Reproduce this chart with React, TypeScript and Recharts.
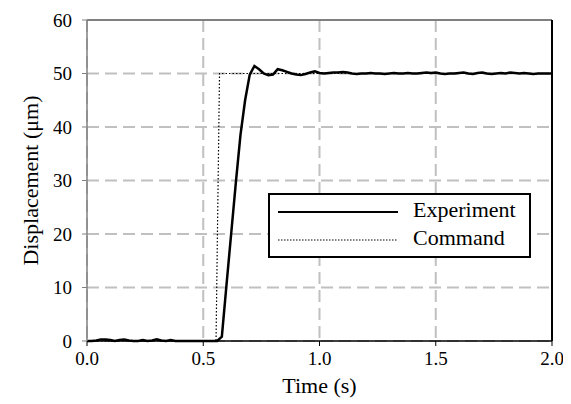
import { LineChart, Line, XAxis, YAxis, CartesianGrid, ReferenceLine, Label } from 'recharts';

// Experiment samples, every 0.02 s
const expTime = [
  0.0, 0.02, 0.04, 0.06, 0.08, 0.1, 0.12, 0.14, 0.16, 0.18,
  0.2, 0.22, 0.24, 0.26, 0.28, 0.3, 0.32, 0.34, 0.36, 0.38,
  0.4, 0.42, 0.44, 0.46, 0.48, 0.5, 0.52, 0.54, 0.56, 0.58,
  0.6, 0.62, 0.64, 0.66, 0.68, 0.7, 0.72, 0.74, 0.76, 0.78,
  0.8, 0.82, 0.84, 0.86, 0.88, 0.9, 0.92, 0.94, 0.96, 0.98,
  1.0, 1.02, 1.04, 1.06, 1.08, 1.1, 1.12, 1.14, 1.16, 1.18,
  1.2, 1.22, 1.24, 1.26, 1.28, 1.3, 1.32, 1.34, 1.36, 1.38,
  1.4, 1.42, 1.44, 1.46, 1.48, 1.5, 1.52, 1.54, 1.56, 1.58,
  1.6, 1.62, 1.64, 1.66, 1.68, 1.7, 1.72, 1.74, 1.76, 1.78,
  1.8, 1.82, 1.84, 1.86, 1.88, 1.9, 1.92, 1.94, 1.96, 1.98, 2.0,
];
const expDisp = [
  0, 0, 0.1, 0.3, 0.3, 0.2, 0, 0.2, 0.3, 0.1,
  0, 0, 0.2, 0, 0.1, 0.3, 0.1, 0, 0.2, 0,
  0, 0, 0, 0, 0, 0, 0, 0, 0, 0.8,
  10.5, 20, 29.5, 38.5, 45, 49.8, 51.4, 50.8, 50.0, 49.7,
  49.8, 50.8, 50.6, 50.3, 50.0, 49.8, 49.7, 49.9, 50.2, 50.4,
  50.1, 50.0, 50.1, 50.2, 50.2, 50.3, 50.2, 50.0, 49.9, 50.0,
  50.0, 50.1, 50.0, 50.0, 49.9, 50.0, 50.1, 50.0, 50.0, 50.1,
  50.0, 50.0, 50.1, 50.2, 50.1, 50.2, 50.0, 49.9, 50.0, 50.0,
  50.1, 50.2, 50.0, 49.9, 50.1, 50.2, 50.0, 49.9, 50.0, 50.1,
  50.0, 50.2, 50.1, 50.0, 50.1, 50.0, 49.9, 50.0, 50.0, 50.0, 50.0,
];

const cmdTime = [0, 0.555, 0.57, 2.0];
const cmdDisp = [0, 0, 50, 50];

const xTicks = [0, 0.5, 1.0, 1.5, 2.0];
const yTicks = [0, 10, 20, 30, 40, 50, 60];

const expData = expTime.map((t, i) => ({ t, y: expDisp[i] }));
const cmdData = cmdTime.map((t, i) => ({ t, y: cmdDisp[i] }));

const font = "'Liberation Serif', 'DejaVu Serif', serif";

function LegendBox() {
  return (
    <div style={{ position: 'absolute', left: 260, top: 185, width: 259, height: 61, border: '2px solid #000', background: '#fff', fontFamily: font, fontSize: 22, color: '#000' }}>
      <svg width={259} height={61} style={{ position: 'absolute', left: 0, top: 0 }}>
        <line x1={8} x2={128} y1={17} y2={17} stroke="#000" strokeWidth={2} />
        <line x1={8} x2={128} y1={45} y2={45} stroke="#000" strokeWidth={1.2} strokeDasharray="1.5 1.5" />
      </svg>
      <div style={{ position: 'absolute', left: 143, top: 2, lineHeight: '26px' }}>Experiment</div>
      <div style={{ position: 'absolute', left: 143, top: 30, lineHeight: '26px' }}>Command</div>
    </div>
  );
}

export default function App() {
  return (
    <div style={{ position: 'relative', width: 563, height: 396, fontFamily: font }}>
      <LineChart width={563} height={396} margin={{ top: 12, right: 19, bottom: 0, left: 0 }}>
        <CartesianGrid stroke="#c0c0c0" strokeWidth={2} strokeDasharray="12 6" />
        <XAxis
          type="number"
          dataKey="t"
          domain={[0, 2]}
          ticks={xTicks}
          tickFormatter={(v: number) => v.toFixed(1)}
          height={63}
          axisLine={{ stroke: '#000', strokeWidth: 1.5 }}
          tickLine={{ stroke: '#000' }}
          tickSize={5}
          tickMargin={6}
          tick={{ fill: '#000', fontSize: 19, fontFamily: font }}
          allowDuplicatedCategory={false}
        >
          <Label value="Time (s)" position="insideBottom" offset={11} style={{ fill: '#000', fontSize: 22, fontFamily: font }} />
        </XAxis>
        <YAxis
          type="number"
          dataKey="y"
          domain={[0, 60]}
          ticks={yTicks}
          width={79}
          axisLine={{ stroke: '#808080', strokeWidth: 1.5 }}
          tickLine={{ stroke: '#808080' }}
          tickSize={5}
          tickMargin={10}
          tick={{ fill: '#000', fontSize: 19, fontFamily: font }}
        >
          <Label
            content={({ viewBox }: any) => (
              <text
                x={22}
                y={viewBox.y + viewBox.height / 2}
                transform={`rotate(-90, 22, ${viewBox.y + viewBox.height / 2})`}
                textAnchor="middle"
                dominantBaseline="central"
                style={{ fill: '#000', fontSize: 22, fontFamily: font }}
              >
                Displacement (μm)
              </text>
            )}
          />
        </YAxis>
        <ReferenceLine y={60} stroke="#808080" strokeWidth={2} />
        <ReferenceLine x={2} stroke="#000" strokeWidth={2} />
        <Line data={cmdData} dataKey="y" stroke="#000" strokeWidth={1.2} strokeDasharray="1.5 2" dot={false} isAnimationActive={false} name="Command" />
        <Line data={expData} dataKey="y" stroke="#000" strokeWidth={2.5} dot={false} isAnimationActive={false} name="Experiment" />
      </LineChart>
      <LegendBox />
    </div>
  );
}
